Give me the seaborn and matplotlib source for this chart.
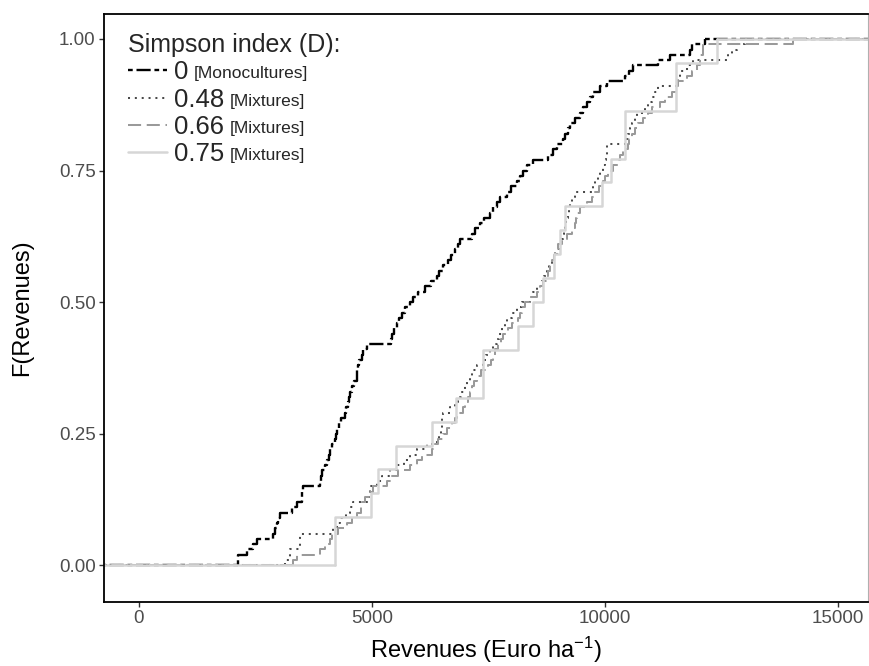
import numpy as np
import pandas as pd
import matplotlib
matplotlib.use("Agg")
import matplotlib.pyplot as plt
import seaborn as sns
from matplotlib.lines import Line2D

# ---------------- data ----------------
groups = ["0", "0.48", "0.66", "0.75"]
group_notes = ["[Monocultures]", "[Mixtures]", "[Mixtures]", "[Mixtures]"]

rev_d000 = [2125, 2130, 2320, 2450, 2530, 2880, 2920, 2960, 2990, 3020,
            3280, 3400, 3500, 3510, 3520, 3880, 3900, 3930, 3990, 4030,
            4070, 4100, 4150, 4200, 4240, 4260, 4300, 4340, 4420, 4450,
            4490, 4510, 4540, 4570, 4620, 4680, 4690, 4700, 4730, 4790,
            4820, 4890, 5400, 5430, 5480, 5540, 5580, 5640, 5720, 5820,
            5880, 6000, 6140, 6280, 6400, 6450, 6520, 6640, 6700, 6780,
            6840, 6890, 7150, 7220, 7320, 7400, 7530, 7600, 7680, 7750,
            7900, 7980, 8110, 8180, 8250, 8330, 8450, 8780, 8880, 8980,
            9100, 9150, 9200, 9250, 9350, 9460, 9540, 9610, 9680, 9740,
            9890, 10040, 10430, 10520, 10600, 11140, 11390, 11820, 11870, 12150]

rev_d048 = [3130, 3240, 3240, 3455, 3455, 3455, 4160, 4250, 4310, 4450,
            4530, 4590, 4910, 4930, 4960, 5110, 5210, 5390, 5560, 5700,
            5820, 5970, 6180, 6400, 6450, 6480, 6500, 6510, 6520, 6670,
            6780, 6850, 6920, 7000, 7050, 7100, 7150, 7250, 7380, 7450,
            7530, 7600, 7680, 7720, 7790, 7850, 7900, 8000, 8110, 8220,
            8390, 8450, 8540, 8650, 8700, 8760, 8810, 8860, 8920, 8970,
            9020, 9080, 9110, 9130, 9140, 9170, 9200, 9230, 9250, 9300,
            9360, 9740, 9800, 9850, 9900, 9960, 10000, 10020, 10040, 10040,
            10430, 10500, 10550, 10580, 10640, 10700, 10860, 10930, 11010, 11080,
            11140, 11550, 11580, 11610, 11760, 11890, 12640, 12730, 12830, 13000]

rev_d066 = [3300, 3390, 3880, 3990, 4100, 4140, 4270, 4460, 4570, 4680,
            4760, 4790, 4850, 4960, 5020, 5320, 5430, 5560, 5820, 5970,
            6070, 6290, 6350, 6420, 6520, 6610, 6720, 6780, 6820, 6950,
            7000, 7060, 7100, 7150, 7200, 7250, 7350, 7490, 7550, 7600,
            7650, 7700, 7780, 7810, 7920, 8000, 8130, 8180, 8220, 8280,
            8390, 8540, 8610, 8670, 8760, 8780, 8820, 8860, 8900, 8930,
            8990, 9080, 9180, 9290, 9350, 9380, 9400, 9460, 9610, 9720,
            9800, 9880, 9960, 10010, 10060, 10170, 10280, 10330, 10390, 10490,
            10530, 10580, 10640, 10710, 10820, 10920, 11010, 11180, 11290, 11440,
            11500, 11570, 11760, 11870, 11970, 12040, 12040, 12100, 12100, 14030]

rev_d075 = [4200, 4200, 4980, 5130, 5515, 6290, 6800, 7380, 7380, 8130,
            8460, 8670, 8900, 9035, 9140, 9935, 10130, 10430, 10430, 11525,
            11525, 12400]

x_ticks = [0, 5000, 10000, 15000]
y_ticks = [0.00, 0.25, 0.50, 0.75, 1.00]

# ---------------- styling ----------------
sns.set_theme(style="white")
plt.rcParams["font.family"] = ["Liberation Sans", "DejaVu Sans"]
plt.rcParams["mathtext.default"] = "regular"

df = pd.concat(
    [pd.DataFrame({"D": g, "Revenues": v})
     for g, v in zip(groups, [rev_d000, rev_d048, rev_d066, rev_d075])],
    ignore_index=True)

W, H = 869, 666
fig = plt.figure(figsize=(W / 100, H / 100), dpi=100)
ax_l, ax_r, ax_t, ax_b = 104, 868, 14, 602
ax = fig.add_axes([ax_l / W, 1 - ax_b / H, (ax_r - ax_l) / W, (ax_b - ax_t) / H])

colors = ["#000000", "#4a4a4a", "#9a9a9a", "#d6d6d6"]
styles = [(0, (2, 1.6, 6, 1.6)), (0, (1, 2.4)), (0, (6.5, 2.8)), "-"]
widths = [1.7, 1.45, 1.45, 1.8]

XMIN, XMAX = -750, 15650
for g, c, ls, lw in zip(groups, colors, styles, widths):
    sub = df[df["D"] == g]
    sns.ecdfplot(data=sub, x="Revenues", ax=ax, color=c, linestyle=ls, lw=lw)
    ax.plot([sub["Revenues"].min(), XMIN], [0, 0], color=c, linestyle=ls, lw=lw)
    ax.plot([sub["Revenues"].max(), XMAX], [1, 1], color=c, linestyle=ls, lw=lw)

ax.set_xlim(XMIN, XMAX)
ax.set_ylim(-0.070, 1.0475)
ax.set_xticks(x_ticks)
ax.set_xticklabels([str(t) for t in x_ticks])
ax.set_yticks(y_ticks)
ax.set_yticklabels([f"{t:.2f}" for t in y_ticks])
ax.tick_params(bottom=True, left=True, direction="out", length=3.5, width=1,
               color="#333333", labelsize=13.5, labelcolor="#4D4D4D", pad=2.5)
for name, sp in ax.spines.items():
    sp.set_color("black")
    sp.set_linewidth(1.3)
ax.spines["right"].set_color("#b0b0b0")
ax.spines["right"].set_linewidth(0.8)

ax.set_xlabel("Revenues (Euro ha$^{-1}$)", fontsize=17, color="black")
ax.set_ylabel("F(Revenues)", fontsize=17, color="black")
ax.xaxis.set_label_coords(0.5 * (ax_l + ax_r) / W, 1 - 650 / H, transform=fig.transFigure)
ax.xaxis.label.set_verticalalignment("center")
ax.yaxis.set_label_coords(22 / W, 1 - 308 / H, transform=fig.transFigure)
ax.yaxis.label.set_verticalalignment("center")

handles = [Line2D([], [], color=c, linestyle=ls, lw=lw)
           for c, ls, lw in zip(colors, styles, widths)]
leg = ax.legend(handles, groups, title="Simpson index (D):", loc="upper left",
                bbox_to_anchor=(128 / W, 1 - 33 / H), bbox_transform=fig.transFigure,
                frameon=False, fontsize=18.5, title_fontsize=18, alignment="left",
                handlelength=1.5, handletextpad=0.3, labelspacing=0.13,
                borderpad=0, borderaxespad=0)
for t, note in zip(leg.get_texts(), group_notes):
    ax.annotate(note, xy=(1, 0), xycoords=t, xytext=(4, 2.2),
                textcoords="offset points", fontsize=12.5, va="bottom",
                ha="left", zorder=10)

fig.canvas.draw()
fig.savefig("out.png", dpi=100)
